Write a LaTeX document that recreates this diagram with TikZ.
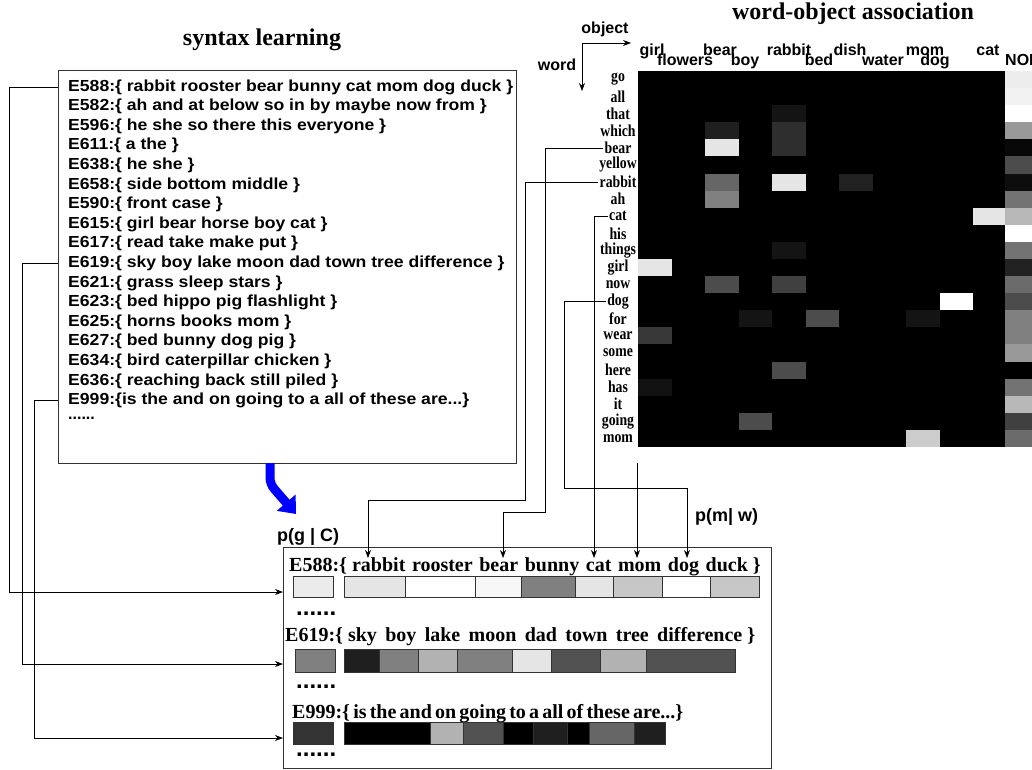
\documentclass[tikz,border=0pt]{standalone}
\usepackage{fontspec}
\setmainfont{Liberation Serif}
\setsansfont{Liberation Sans}
\newfontfamily\synfont[FakeStretch=1.1]{Liberation Sans}
\usetikzlibrary{arrows.meta,calc}
\newcommand\gbox[5]{\filldraw[fill=white!#5!black,draw=black!80,line width=0.6pt] (#1,#3) rectangle (#2,#4);}
\newcommand\hcell[3]{\fill[white!#3!black] ({638+33.5*#1},{71+17.09*#2}) rectangle ++(33.5,17.09);}
\newcommand\ncell[2]{\fill[white!#2!black] (1005,{71+17.09*#1}) rectangle (1032,{71+17.09*(#1+1)});}
\newcommand\wg{\hspace{1.6pt}}
\begin{document}
\begin{tikzpicture}[x=1pt,y=-1pt,
 conn/.style={line width=0.7pt,draw=black},
 arr/.style={conn,-{Stealth[length=8pt,width=6pt]}},
 syn/.style={anchor=west,inner sep=0pt,font=\synfont\bfseries\fontsize{16}{18}\selectfont},
 bt/.style={anchor=west,inner sep=0pt,font=\bfseries\fontsize{20}{22}\selectfont},
 rowlab/.style={inner sep=1pt,font=\bfseries\fontsize{14.5}{15}\selectfont},
 collab/.style={inner sep=0pt,anchor=base,font=\sffamily\bfseries\fontsize{16}{17}\selectfont},
 axlab/.style={inner sep=0pt,font=\sffamily\bfseries\fontsize{16}{17}\selectfont},
 plab/.style={anchor=west,inner sep=0pt,font=\sffamily\bfseries\fontsize{18}{20}\selectfont},
 ttl/.style={inner sep=0pt,font=\bfseries\fontsize{24}{26}\selectfont},
 dots/.style={anchor=west,inner sep=0pt,font=\sffamily\bfseries\fontsize{24}{24}\selectfont},
 frame/.style={draw=black!80,line width=0.8pt,anchor=north west,inner sep=0pt}
]
\useasboundingbox (0,0) rectangle (1032,769);

% titles
\node[ttl] (t-syn) at (262,40) {syntax learning};
\node[ttl] (t-wo) at (853,14) {word-object association};

% ---------- left box ----------
\node[frame,minimum width=458pt,minimum height=393pt] (synbox) at (58,70) {};
\node[syn] (l1) at (68,87) {E588:\{ rabbit rooster bear bunny cat mom dog duck \}};
\node[syn] (l2) at (68,106.6) {E582:\{ ah and at below so in by maybe now from \}};
\node[syn] (l3) at (68,126.2) {E596:\{ he she so there this everyone \}};
\node[syn] (l4) at (68,145.8) {E611:\{ a the \}};
\node[syn] (l5) at (68,165.4) {E638:\{ he she \}};
\node[syn] (l6) at (68,185) {E658:\{ side bottom middle \}};
\node[syn] (l7) at (68,204.6) {E590:\{ front case \}};
\node[syn] (l8) at (68,224.2) {E615:\{ girl bear horse boy cat \}};
\node[syn] (l9) at (68,243.8) {E617:\{ read take make put \}};
\node[syn] (l10) at (68,263.4) {E619:\{ sky boy lake moon dad town tree difference \}};
\node[syn] (l11) at (68,283) {E621:\{ grass sleep stars \}};
\node[syn] (l12) at (68,302.6) {E623:\{ bed hippo pig flashlight \}};
\node[syn] (l13) at (68,322.2) {E625:\{ horns books mom \}};
\node[syn] (l14) at (68,341.8) {E627:\{ bed bunny dog pig \}};
\node[syn] (l15) at (68,361.4) {E634:\{ bird caterpillar chicken \}};
\node[syn] (l16) at (68,381) {E636:\{ reaching back still piled \}};
\node[syn] (l17) at (68,400.6) {E999:\{is the and on going to a all of these are...\}};
\node[anchor=west,inner sep=0pt,font=\sffamily\bfseries\fontsize{16}{16}\selectfont] (l18) at (68,418) {......};

% ---------- blue arrow ----------
\coordinate (bx) at (270,463);
\draw[blue,line width=9pt,rounded corners=6pt,-{Triangle[length=15pt,width=24pt]}] (bx) -- (270,484) -- (296,514);
\node[plab] (pg) at (277,537) {p(g | C)};

% ---------- bottom box ----------
\node[frame,minimum width=488pt,minimum height=221pt] (botbox) at (283,547) {};
\node[bt] (b1) at (289,567) {E588:\{ rabbit\wg{} rooster\wg{} bear\wg{} bunny\wg{} cat\wg{} mom\wg{} dog\wg{} duck \}};
\gbox{293}{333}{576}{597}{92}
\gbox{344}{405}{576}{597}{90}
\gbox{405}{475}{576}{597}{100}
\gbox{475}{521}{576}{597}{97}
\gbox{521}{575}{576}{597}{50}
\gbox{575}{613}{576}{597}{90}
\gbox{613}{662}{576}{597}{78}
\gbox{662}{710}{576}{597}{100}
\gbox{710}{759}{576}{597}{78}
\node[dots] (d1) at (296,614) {......};
\node[bt] (b2) at (285,637) {E619:\{ sky\, boy\, lake\, moon\, dad\, town\, tree\, difference \}};
\gbox{295}{335}{649}{672}{50}
\gbox{344}{379}{649}{672}{12}
\gbox{379}{418}{649}{672}{50}
\gbox{418}{457}{649}{672}{70}
\gbox{457}{512}{649}{672}{50}
\gbox{512}{551}{649}{672}{90}
\gbox{551}{600}{649}{672}{32}
\gbox{600}{646}{649}{672}{70}
\gbox{646}{735}{649}{672}{32}
\node[dots] (d2) at (296,687) {......};
\node[bt] (b3) at (292,714) {\spaceskip=3.2pt E999:\{ is the and on going to a all of these are...\}};
\gbox{293}{333}{722}{744}{20}
\gbox{344}{430}{722}{744}{0}
\gbox{430}{463}{722}{744}{70}
\gbox{463}{503}{722}{744}{32}
\gbox{503}{533}{722}{744}{0}
\gbox{533}{567}{722}{744}{12}
\gbox{567}{589}{722}{744}{0}
\gbox{589}{634}{722}{744}{40}
\gbox{634}{665}{722}{744}{12}
\node[dots] (d3) at (296,755) {......};

% left connectors
\coordinate (y1) at (0,592);
\coordinate (y2) at (0,664);
\coordinate (y3) at (0,738);
\draw[arr] (synbox.west |- l1) -- ++(-49,0) |- (botbox.west |- y1);
\draw[arr] (synbox.west |- l10) -- ++(-36,0) |- (botbox.west |- y2);
\draw[arr] (synbox.west |- l17) -- ++(-24,0) |- (botbox.west |- y3);

% ---------- heatmap ----------
\fill[black] (638,71) rectangle (1032,447);
\hcell{2}{3}{12}
\hcell{4}{3}{18}
\hcell{4}{2}{8}
\hcell{2}{4}{90}
\hcell{4}{4}{18}
\hcell{2}{6}{40}
\hcell{4}{6}{90}
\hcell{6}{6}{13}
\hcell{2}{7}{50}
\hcell{10}{8}{90}
\hcell{4}{10}{8}
\hcell{0}{11}{90}
\hcell{2}{12}{30}
\hcell{4}{12}{25}
\hcell{9}{13}{100}
\hcell{3}{14}{8}
\hcell{5}{14}{30}
\hcell{8}{14}{8}
\hcell{0}{15}{22}
\hcell{4}{17}{30}
\hcell{0}{18}{7}
\hcell{3}{20}{30}
\hcell{8}{21}{80}
\ncell{0}{93}\ncell{1}{95}\ncell{2}{100}\ncell{3}{60}
\ncell{4}{3}\ncell{5}{30}\ncell{6}{5}\ncell{7}{45}
\ncell{8}{72}\ncell{9}{100}\ncell{10}{45}\ncell{11}{13}
\ncell{12}{42}\ncell{13}{30}\ncell{14}{50}\ncell{15}{50}
\ncell{16}{60}\ncell{17}{0}\ncell{18}{45}\ncell{19}{72}
\ncell{20}{25}\ncell{21}{42}

% row labels
\foreach \w [count=\i from 0] in {go,all,that,which,bear,yellow,rabbit,ah,cat,his,things,girl,now,dog,for,wear,some,here,has,it,going,mom}
  \node[rowlab] (r-\w) at (618,{71+17.09*(\i+0.5)}) {\scalebox{0.95}[1.15]{\w}};

% column labels
\node[collab] (c-girl) at (652,55) {girl};
\node[collab] (c-bear) at (720,55) {bear};
\node[collab] (c-rabbit) at (789,55) {rabbit};
\node[collab] (c-dish) at (850,55) {dish};
\node[collab] (c-mom) at (925,55) {mom};
\node[collab] (c-cat) at (988,55) {cat};
\node[collab] (c-flowers) at (685,65) {flowers};
\node[collab] (c-boy) at (745,65) {boy};
\node[collab] (c-bed) at (819,65) {bed};
\node[collab] (c-water) at (883,65) {water};
\node[collab] (c-dog) at (935,65) {dog};
\node[collab,anchor=base west] (c-none) at (1005,65) {NONE};

% axes
\coordinate (ax) at (582,43);
\node[axlab] (objl) at (605,29) {object};
\node[axlab] (wordl) at (557,65) {word};
\draw[arr] (ax) -- (631,43);
\draw[arr] (ax) -- (582,91);

% word connectors
\coordinate (w-rabbit) at (368,558);
\coordinate (w-bear) at (503,558);
\coordinate (w-cat) at (594,558);
\coordinate (w-mom) at (637,558);
\coordinate (w-dog) at (687,558);
\coordinate (m0) at (637,463);
\draw[arr] (r-bear.west) -| (545,512) -| (w-bear);
\draw[arr] (r-rabbit.west) -| (525,500) -| (w-rabbit);
\draw[arr] (r-cat.west) -| (w-cat);
\draw[arr] (r-dog.west) -| (564,488) -| (w-dog);
\draw[arr] (m0) -- (w-mom);
\node[plab] (pm) at (695,517) {p(m| w)};
\end{tikzpicture}
\end{document}
